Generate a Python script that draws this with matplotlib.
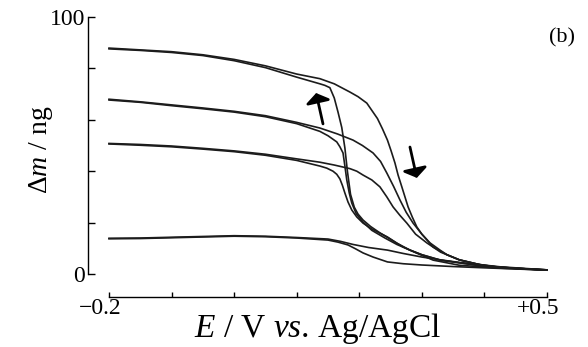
import numpy as np
import matplotlib
matplotlib.use('Agg')
import matplotlib.pyplot as plt
from matplotlib.transforms import ScaledTranslation

plt.rcParams['font.family'] = ['Liberation Serif', 'DejaVu Serif']
plt.rcParams['mathtext.fontset'] = 'custom'
plt.rcParams['mathtext.rm'] = 'Liberation Serif'
plt.rcParams['mathtext.it'] = 'Liberation Serif:italic'

# EQCM mass change vs potential, four films; each loop = anodic sweep + cathodic return
E_grid = [-0.20, -0.15, -0.10, -0.05, 0.00, 0.05, 0.10]

# film 1 (largest loading)
e1_fwd = E_grid + [0.137, 0.160, 0.185, 0.198, 0.212, 0.229, 0.237, 0.245, 0.251, 0.257, 0.262, 0.268, 0.278,
                   0.285, 0.292, 0.300, 0.313, 0.329, 0.340, 0.360, 0.393, 0.425, 0.460, 0.500]
m1_fwd = [87.9, 87.2, 86.5, 85.3, 83.5, 81.0, 77.8,
          76.0, 74.0, 70.8, 69.0, 66.5, 60.5, 56.5, 52.1, 47.8, 43.2, 38.5, 33.9, 26.1,
          22.0, 18.3, 15.5, 12.1, 9.3, 7.5, 5.5, 3.6, 2.6, 2.0, 1.6]
e1_ret = E_grid + [0.137, 0.145, 0.153, 0.160, 0.166, 0.172, 0.177, 0.181, 0.186, 0.192, 0.198, 0.206,
                   0.218, 0.233, 0.250, 0.270, 0.290, 0.318, 0.360, 0.425, 0.500]
m1_ret = [87.6, 87.0, 86.2, 85.0, 83.0, 80.3, 76.6,
          74.0, 73.4, 72.5, 68.5, 63.0, 57.0, 49.0, 40.0, 31.0, 26.0, 23.3, 21.0,
          18.5, 16.0, 13.5, 10.5, 8.3, 5.4, 3.4, 2.3, 1.5]

# film 2
e2_fwd = E_grid + [0.137, 0.165, 0.190, 0.205, 0.222, 0.234, 0.244, 0.255, 0.265, 0.275, 0.286, 0.300,
                   0.318, 0.340, 0.360, 0.400, 0.450, 0.500]
m2_fwd = [68.0, 67.0, 65.8, 64.6, 63.3, 61.6, 59.0,
          56.8, 54.5, 52.1, 50.0, 47.1, 43.8, 39.3, 34.0, 28.8, 24.0, 19.8, 15.5,
          10.5, 7.5, 5.5, 3.2, 2.2, 1.6]
e2_ret = E_grid + [0.137, 0.150, 0.164, 0.169, 0.174, 0.177, 0.180, 0.184, 0.188, 0.195, 0.206, 0.220,
                   0.241, 0.260, 0.281, 0.300, 0.329, 0.400, 0.500]
m2_ret = [67.7, 66.8, 65.5, 64.3, 63.0, 61.2, 58.5,
          55.5, 53.8, 51.4, 49.5, 47.1, 42.0, 36.6, 31.5, 27.6, 23.5, 20.2, 17.0,
          14.0, 11.5, 9.3, 7.5, 5.4, 3.0, 1.5]

# film 3
e3_fwd = E_grid + [0.137, 0.160, 0.185, 0.196, 0.206, 0.220, 0.233, 0.244, 0.254, 0.265, 0.276, 0.290,
                   0.308, 0.330, 0.360, 0.390, 0.425, 0.500]
m3_fwd = [50.8, 50.4, 49.8, 48.9, 47.9, 46.6, 44.8,
          43.5, 42.4, 41.0, 40.0, 38.5, 36.6, 33.9, 30.0, 26.1, 22.8, 19.8, 15.5,
          12.1, 8.5, 5.5, 3.8, 2.5, 1.6]
e3_ret = E_grid + [0.137, 0.148, 0.158, 0.164, 0.169, 0.173, 0.177, 0.182, 0.188, 0.196, 0.206, 0.220,
                   0.245, 0.260, 0.281, 0.300, 0.330, 0.400, 0.500]
m3_ret = [50.6, 50.1, 49.5, 48.6, 47.6, 46.2, 44.2,
          42.0, 41.2, 40.0, 38.8, 37.0, 34.5, 31.5, 28.0, 24.9, 22.2, 19.8, 17.5,
          14.4, 12.0, 9.3, 7.5, 5.4, 3.0, 1.5]

# film 4 (thinnest)
e4_fwd = E_grid + [0.150, 0.170, 0.190, 0.215, 0.245, 0.270, 0.300, 0.330, 0.360, 0.425, 0.500]
m4_fwd = [13.9, 14.0, 14.3, 14.6, 14.9, 14.7, 14.2,
          13.6, 12.7, 11.5, 10.3, 9.3, 8.0, 6.6, 5.5, 4.5, 2.8, 1.6]
e4_ret = E_grid + [0.150, 0.166, 0.182, 0.194, 0.206, 0.222, 0.245, 0.270, 0.300, 0.350, 0.400, 0.500]
m4_ret = [13.7, 13.8, 14.1, 14.4, 14.7, 14.5, 14.0,
          13.2, 12.4, 11.3, 9.8, 8.2, 6.6, 4.7, 4.0, 3.5, 2.9, 2.4, 1.5]

loops = [(e1_fwd, m1_fwd, e1_ret, m1_ret),
         (e2_fwd, m2_fwd, e2_ret, m2_ret),
         (e3_fwd, m3_fwd, e3_ret, m3_ret),
         (e4_fwd, m4_fwd, e4_ret, m4_ret)]

x_ticks = np.arange(-0.2, 0.51, 0.1)
x_labels = ['\u22120.2', '', '', '', '', '', '', '+0.5']
y_ticks = np.arange(0, 101, 20)
y_labels = ['0', '', '', '', '', '100']

fig = plt.figure(figsize=(5.88, 3.47), dpi=100)
ax = fig.add_axes([109 / 588, 73 / 347, 438 / 588, 257 / 347])

for ef, mf, er, mr in loops:
    ax.plot(ef, mf, color='#1c1c1c', lw=1.2, clip_on=False, solid_joinstyle='round')
    ax.plot(er, mr, color='#1c1c1c', lw=1.2, clip_on=False, solid_joinstyle='round')

ax.set_xlim(-0.2, 0.5)
ax.set_ylim(0, 100)

# detached axes: spines pushed out from the data area
for side in ['top', 'right']:
    ax.spines[side].set_visible(False)
ax.spines['left'].set_position(('outward', 21 * 0.72))
ax.spines['bottom'].set_position(('outward', 23 * 0.72))
ax.spines['left'].set_bounds(0, 100)
ax.spines['bottom'].set_bounds(-0.2, 0.5)
for side in ['left', 'bottom']:
    ax.spines[side].set_linewidth(1.0)

ax.set_xticks(x_ticks)
ax.set_xticklabels(x_labels)
ax.set_yticks(y_ticks)
ax.set_yticklabels(y_labels)
ax.tick_params(axis='y', direction='in', length=5, width=1.0, pad=2, labelsize=17)
ax.tick_params(axis='x', direction='in', length=3.5, width=1.0, pad=1, labelsize=17)
for lab in ax.get_xticklabels():
    lab.set_transform(lab.get_transform() + ScaledTranslation(-0.09, 0, fig.dpi_scale_trans))

ax.set_xlabel(r'$E$ / V $vs$. Ag/AgCl', fontsize=24, va='center')
ax.xaxis.set_label_coords((317.5 - 109) / 438, (274 - 328) / 257)
ax.set_ylabel(r'$\mathit{\Delta m}$ / ng', fontsize=20, va='center')
ax.yaxis.set_label_coords((41 - 109) / 438, (274 - 150) / 257)

ax.text(1.034, 0.918, '(b)', transform=ax.transAxes, fontsize=16, ha='center', va='center')

# sweep direction arrows
arrow_kw = dict(arrowstyle='-|>,head_length=0.35,head_width=0.5', lw=2.0, color='k',
                mutation_scale=15, shrinkA=0, shrinkB=0)
ax.annotate('', xy=(0.131, 70.4), xytext=(0.142, 58.4), arrowprops=arrow_kw)
ax.annotate('', xy=(0.292, 37.4), xytext=(0.281, 49.4), arrowprops=arrow_kw)

fig.savefig('out.png', dpi=100)
